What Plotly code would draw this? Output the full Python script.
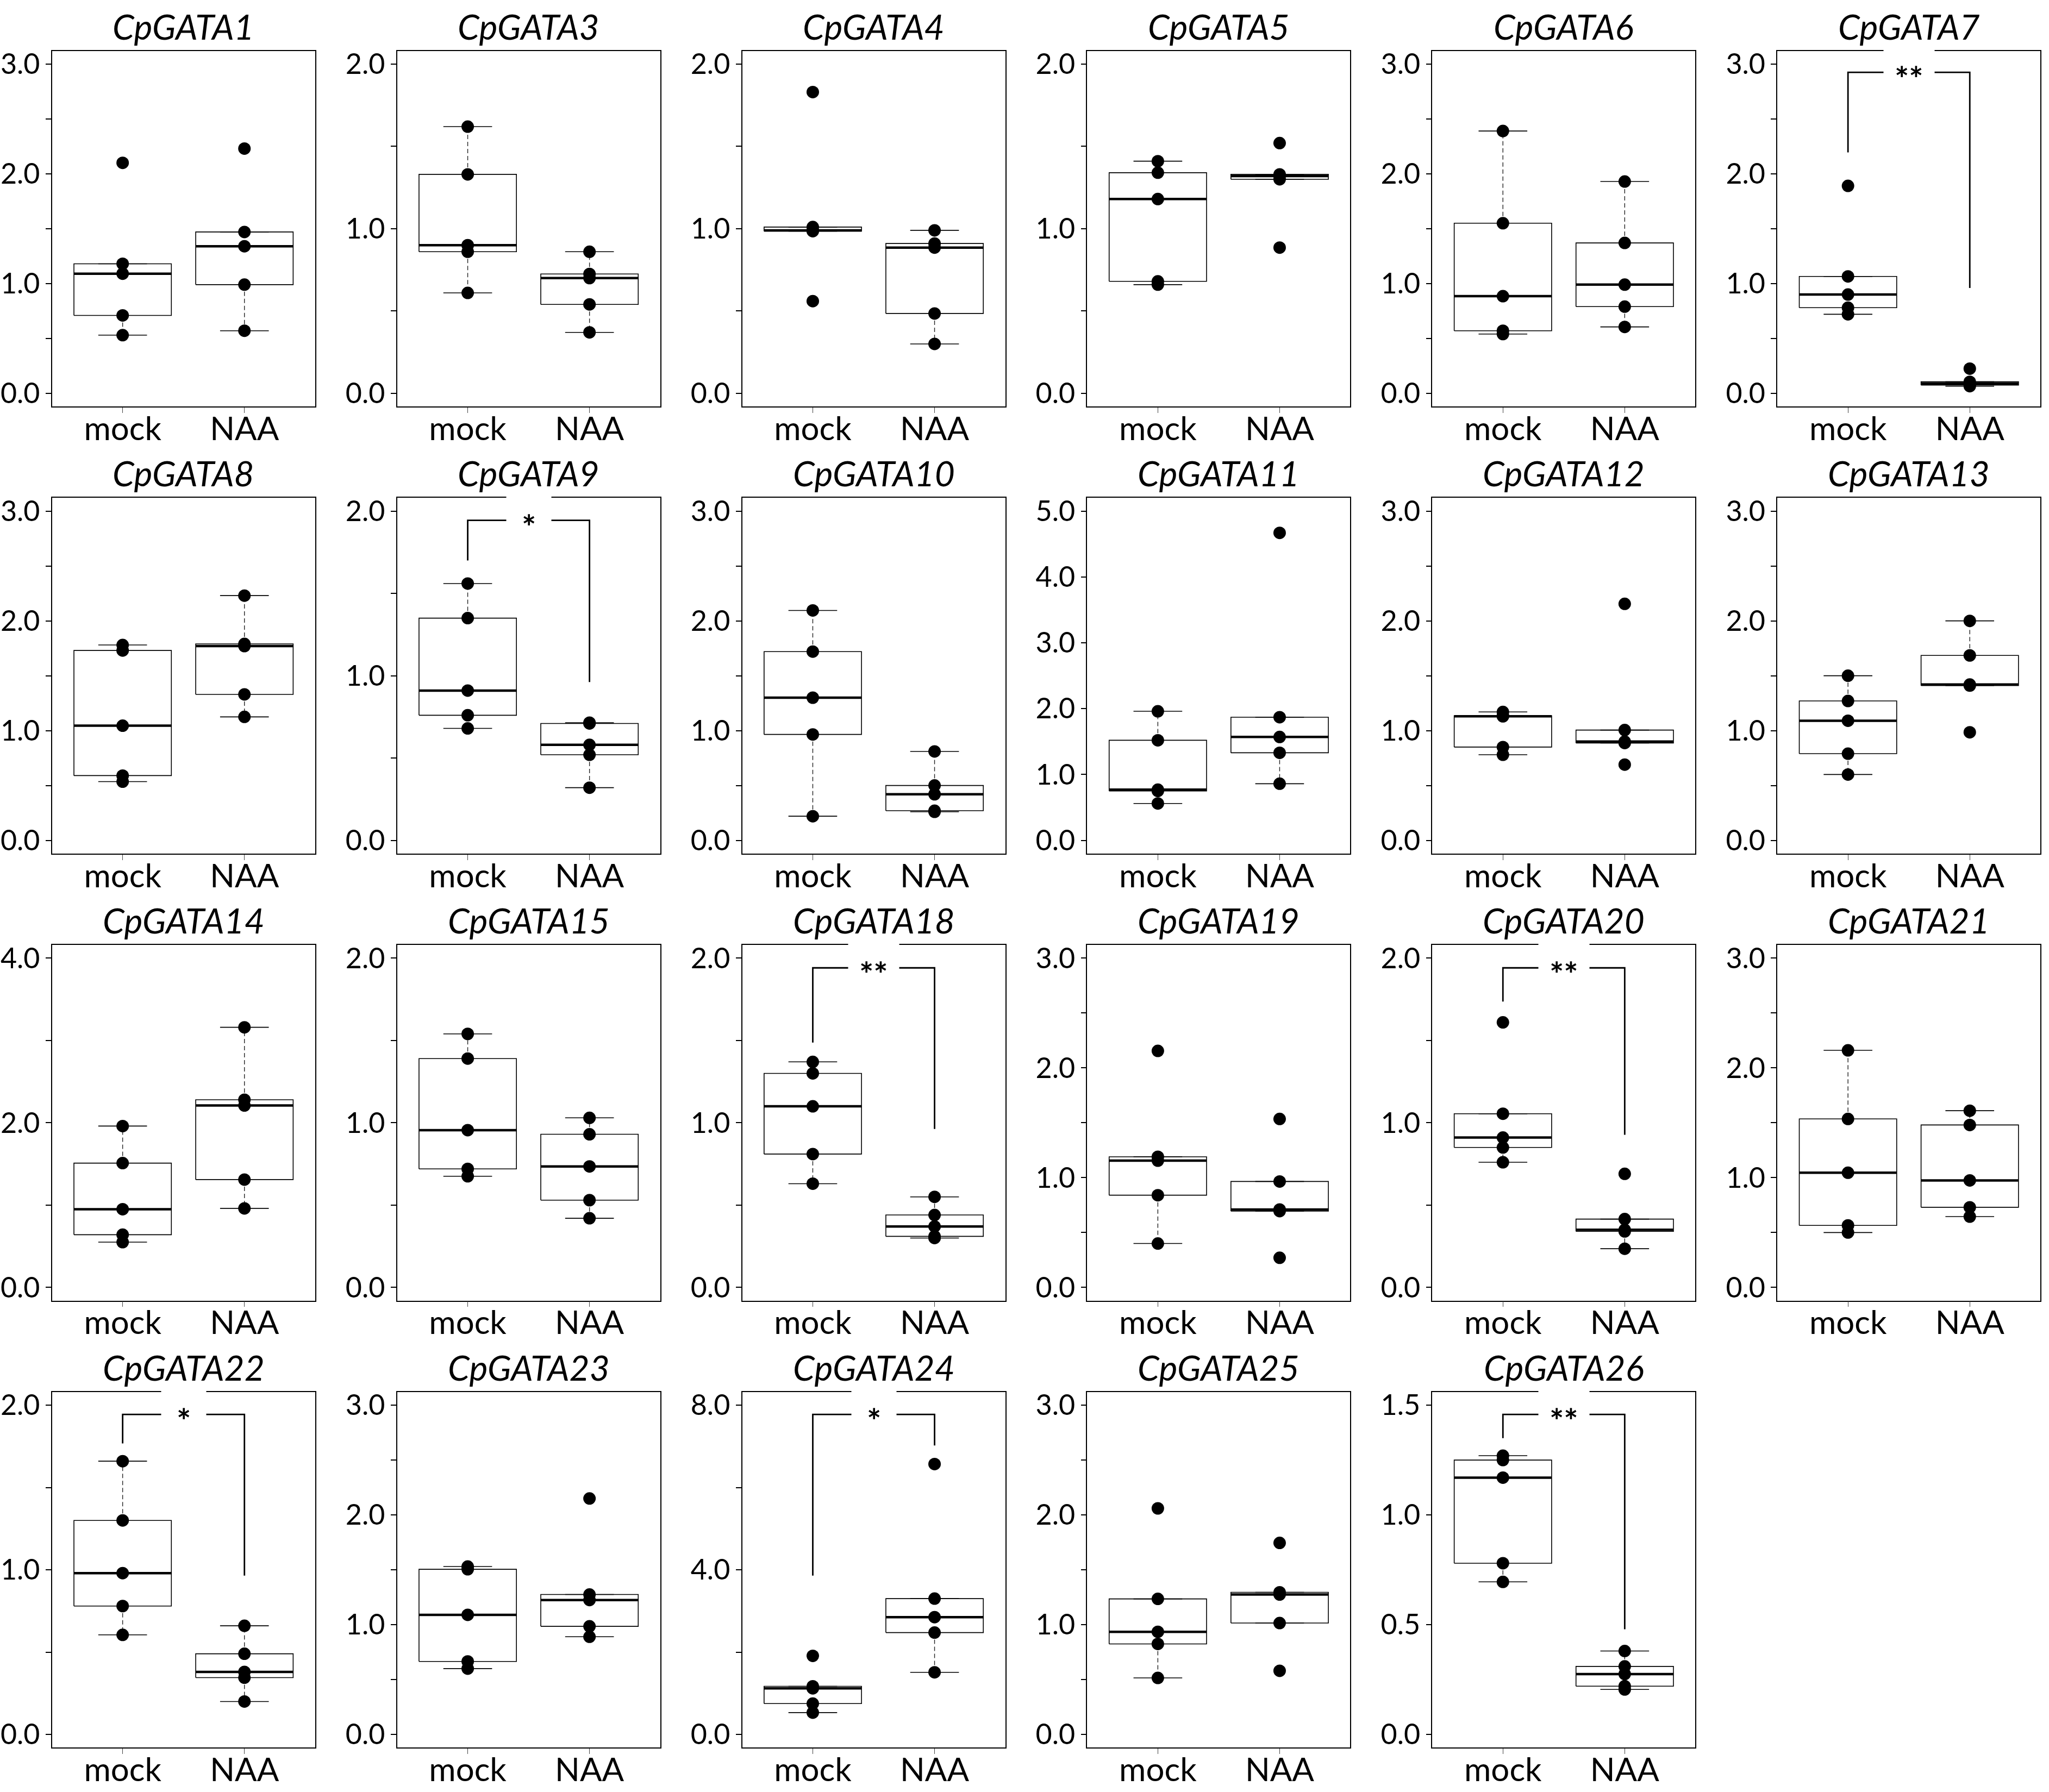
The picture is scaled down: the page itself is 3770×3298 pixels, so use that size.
import numpy as np
import plotly.graph_objects as go

genes = ['CpGATA1', 'CpGATA3', 'CpGATA4', 'CpGATA5', 'CpGATA6', 'CpGATA7',
         'CpGATA8', 'CpGATA9', 'CpGATA10', 'CpGATA11', 'CpGATA12', 'CpGATA13',
         'CpGATA14', 'CpGATA15', 'CpGATA18', 'CpGATA19', 'CpGATA20', 'CpGATA21',
         'CpGATA22', 'CpGATA23', 'CpGATA24', 'CpGATA25', 'CpGATA26']
groups = ['mock', 'NAA']

# relative expression, 5 replicates per group
mock_values = [
    [0.53, 0.71, 1.09, 1.18, 2.10],
    [0.61, 0.86, 0.90, 1.33, 1.62],
    [0.56, 0.985, 0.99, 1.01, 1.83],
    [0.66, 0.68, 1.18, 1.34, 1.41],
    [0.54, 0.57, 0.885, 1.55, 2.39],
    [0.72, 0.78, 0.90, 1.065, 1.89],
    [0.535, 0.59, 1.045, 1.73, 1.78],
    [0.68, 0.76, 0.91, 1.35, 1.56],
    [0.22, 0.965, 1.30, 1.72, 2.095],
    [0.56, 0.75, 0.77, 1.52, 1.96],
    [0.78, 0.85, 1.13, 1.135, 1.17],
    [0.60, 0.79, 1.09, 1.27, 1.50],
    [0.55, 0.64, 0.95, 1.51, 1.96],
    [0.675, 0.72, 0.955, 1.39, 1.54],
    [0.63, 0.81, 1.10, 1.30, 1.37],
    [0.40, 0.84, 1.155, 1.19, 2.155],
    [0.76, 0.85, 0.91, 1.055, 1.61],
    [0.50, 0.565, 1.045, 1.535, 2.16],
    [0.605, 0.78, 0.98, 1.30, 1.66],
    [0.60, 0.665, 1.09, 1.505, 1.53],
    [0.53, 0.75, 1.12, 1.17, 1.91],
    [0.515, 0.825, 0.935, 1.235, 2.06],
    [0.695, 0.78, 1.17, 1.25, 1.27],
]
naa_values = [
    [0.57, 0.99, 1.34, 1.47, 2.23],
    [0.37, 0.54, 0.70, 0.725, 0.86],
    [0.30, 0.485, 0.885, 0.91, 0.99],
    [0.885, 1.30, 1.32, 1.33, 1.52],
    [0.605, 0.79, 0.99, 1.37, 1.93],
    [0.065, 0.075, 0.09, 0.105, 0.225],
    [1.125, 1.33, 1.77, 1.79, 2.23],
    [0.32, 0.52, 0.58, 0.71, 0.715],
    [0.26, 0.27, 0.42, 0.50, 0.81],
    [0.86, 1.33, 1.57, 1.87, 4.67],
    [0.69, 0.887, 0.90, 1.005, 2.155],
    [0.985, 1.41, 1.42, 1.685, 2.0],
    [0.96, 1.31, 2.21, 2.28, 3.16],
    [0.42, 0.53, 0.735, 0.93, 1.03],
    [0.30, 0.31, 0.37, 0.44, 0.55],
    [0.27, 0.695, 0.71, 0.965, 1.535],
    [0.235, 0.34, 0.35, 0.415, 0.69],
    [0.645, 0.73, 0.975, 1.48, 1.61],
    [0.20, 0.345, 0.38, 0.49, 0.66],
    [0.89, 0.985, 1.225, 1.275, 2.15],
    [1.51, 2.475, 2.85, 3.30, 6.57],
    [0.58, 1.015, 1.275, 1.295, 1.745],
    [0.205, 0.22, 0.275, 0.31, 0.38],
]

# y axis per panel: top value, tick spacing, labelled tick spacing
y_max = [3, 2, 2, 2, 3, 3, 3, 2, 3, 5, 3, 3, 4, 2, 2, 3, 2, 3, 2, 3, 8, 3, 1.5]
tick_step = [0.5, 0.5, 0.5, 0.5, 0.5, 0.5, 0.5, 0.5, 0.5, 1, 0.5, 0.5,
             1, 0.5, 0.5, 0.5, 0.5, 0.5, 0.5, 0.5, 2, 0.5, 0.5]
label_step = [1, 1, 1, 1, 1, 1, 1, 1, 1, 1, 1, 1, 2, 1, 1, 1, 1, 1, 1, 1, 4, 1, 0.5]

# significance brackets
sig_genes = ['CpGATA7', 'CpGATA9', 'CpGATA18', 'CpGATA20', 'CpGATA22', 'CpGATA24', 'CpGATA26']
sig_labels = ['**', '*', '**', '**', '*', '*', '**']
bracket_top = [2.925, 1.944, 1.941, 1.941, 1.944, 7.775, 1.458]
bracket_left = [2.195, 1.70, 1.487, 1.736, 1.768, 3.86, 1.35]
bracket_right = [0.96, 0.962, 0.962, 0.927, 0.965, 7.02, 0.479]

W, H = 3770, 3298
col_left = [95.7 + 634.9 * c for c in range(6)]
row_top = [86 + 826 * r for r in range(4)]
panel_w, panel_h = 484, 657
FONT = 'Lato'


def box_stats(values):
    # Tukey hinges (like R's fivenum) and 1.5*IQR whiskers
    v = np.sort(np.asarray(values, dtype=float))
    n = len(v)
    n4 = np.floor((n + 3) / 2) / 2
    d = np.array([1, n4, (n + 1) / 2, n + 1 - n4, n]) - 1
    five = 0.5 * (v[np.floor(d).astype(int)] + v[np.ceil(d).astype(int)])
    iqr = five[3] - five[1]
    low = v[v >= five[1] - 1.5 * iqr].min()
    high = v[v <= five[3] + 1.5 * iqr].max()
    return five[1], five[2], five[3], low, high


fig = go.Figure()
annotations = []

for i, gene in enumerate(genes):
    k = '' if i == 0 else str(i + 1)
    xa, ya = 'x' + k, 'y' + k
    r, c = divmod(i, 6)

    box_x, box_y, med_x, med_y = [], [], [], []
    wh_x, wh_y, cap_x, cap_y = [], [], [], []
    pt_x, pt_y = [], []
    for j, vals in enumerate([mock_values[i], naa_values[i]]):
        q1, med, q3, lo, hi = box_stats(vals)
        box_x += [j - 0.4, j + 0.4, j + 0.4, j - 0.4, j - 0.4, None]
        box_y += [q1, q1, q3, q3, q1, None]
        med_x += [j - 0.4, j + 0.4, None]
        med_y += [med, med, None]
        wh_x += [j, j, None, j, j, None]
        wh_y += [q3, hi, None, q1, lo, None]
        cap_x += [j - 0.2, j + 0.2, None, j - 0.2, j + 0.2, None]
        cap_y += [hi, hi, None, lo, lo, None]
        pt_x += [j] * len(vals)
        pt_y += list(vals)

    fig.add_trace(go.Scatter(x=wh_x, y=wh_y, mode='lines', xaxis=xa, yaxis=ya,
                             line=dict(color='#222222', width=1.4, dash='8px,5px')))
    fig.add_trace(go.Scatter(x=cap_x, y=cap_y, mode='lines', xaxis=xa, yaxis=ya,
                             line=dict(color='black', width=1.6)))
    fig.add_trace(go.Scatter(x=box_x, y=box_y, mode='lines', xaxis=xa, yaxis=ya,
                             line=dict(color='black', width=1.6)))
    fig.add_trace(go.Scatter(x=med_x, y=med_y, mode='lines', xaxis=xa, yaxis=ya,
                             line=dict(color='black', width=4.5)))
    fig.add_trace(go.Scatter(x=pt_x, y=pt_y, mode='markers', xaxis=xa, yaxis=ya,
                             marker=dict(color='black', size=23)))

    if gene in sig_genes:
        s = sig_genes.index(gene)
        fig.add_trace(go.Scatter(
            x=[0, 0, 1, 1],
            y=[bracket_left[s], bracket_top[s], bracket_top[s], bracket_right[s]],
            mode='lines', xaxis=xa, yaxis=ya,
            line=dict(color='black', width=2.8)))
        annotations.append(dict(
            text=sig_labels[s], x=0.5, y=bracket_top[s], xref=xa, yref=ya,
            showarrow=False, bgcolor='white', yshift=-11,
            borderpad=20 if len(sig_labels[s]) == 2 else 28,
            font=dict(family=FONT, size=62, color='black', weight='bold')))

    x0 = col_left[c] / W
    x1 = (col_left[c] + panel_w) / W
    y1 = 1 - row_top[r] / H
    y0 = 1 - (row_top[r] + panel_h) / H
    m = y_max[i]
    tv = np.arange(0, m + tick_step[i] / 2, tick_step[i])
    tt = ['%.1f' % t if abs(t / label_step[i] - round(t / label_step[i])) < 1e-6 else ''
          for t in tv]

    fig.layout['xaxis' + k] = dict(
        domain=[x0, x1], anchor=ya, range=[-0.58, 1.58],
        tickvals=[0, 1], ticktext=groups, ticks='outside', ticklen=10,
        tickwidth=1.4, tickcolor='#444444', ticklabelstandoff=-22,
        showline=True, linecolor='black', linewidth=1.6, mirror=True,
        showgrid=False, zeroline=False,
        tickfont=dict(family=FONT, size=60, color='black'))
    fig.layout['yaxis' + k] = dict(
        domain=[y0, y1], anchor=xa, range=[-0.04 * m, 1.04 * m],
        tickvals=list(tv), ticktext=tt, ticks='outside', ticklen=10,
        tickwidth=1.6, tickcolor='black',
        showline=True, linecolor='black', linewidth=1.6, mirror=True,
        showgrid=False, zeroline=False,
        tickfont=dict(family=FONT, size=52, color='black'))

    annotations.append(dict(
        text=gene, x=(x0 + x1) / 2, y=y1, xref='paper', yref='paper',
        xanchor='center', yanchor='bottom', yshift=5, showarrow=False,
        font=dict(family=FONT, size=64, color='black', style='italic')))

fig.update_layout(
    width=W, height=H,
    margin=dict(l=0, r=0, t=0, b=0),
    showlegend=False,
    plot_bgcolor='white', paper_bgcolor='white',
    annotations=annotations,
)

# the page's default body margin would push the 3770x3298 figure past the window
fig.write_html('out.html', config={'displayModeBar': False},
               post_script="document.body.style.margin='0px';"
                           "document.body.style.overflow='hidden';")
